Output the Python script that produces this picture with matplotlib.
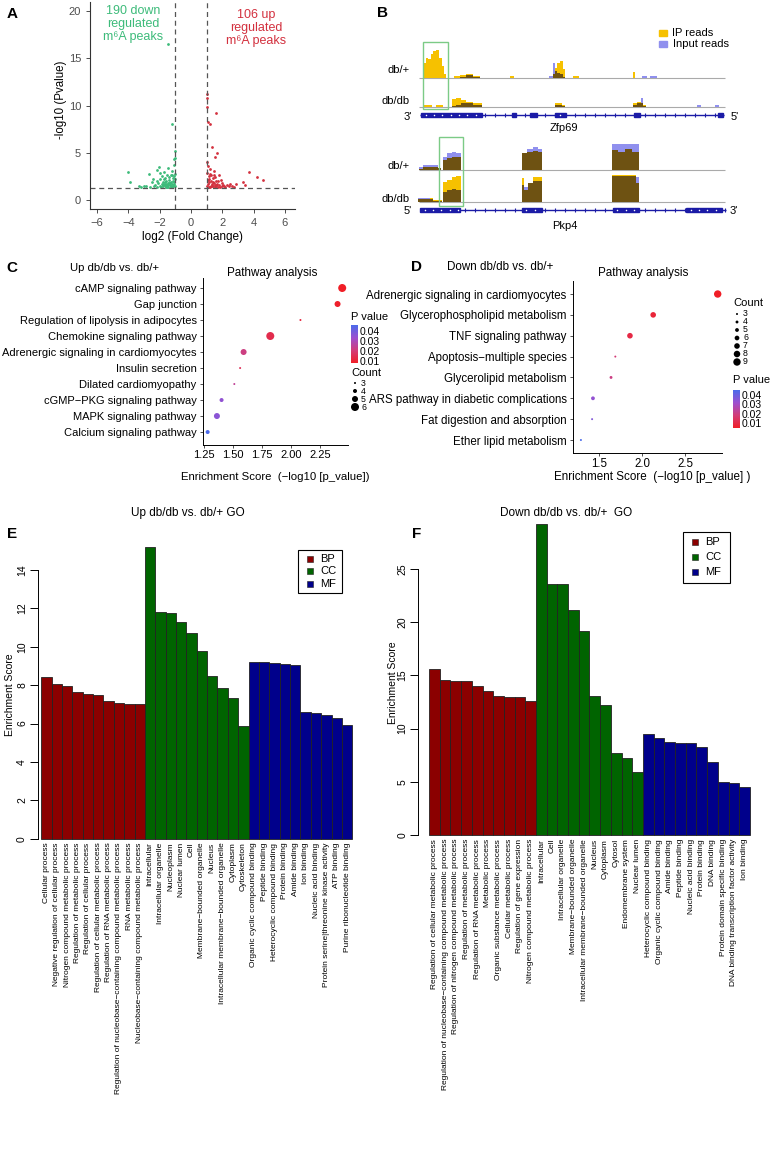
import matplotlib
matplotlib.use('Agg')
import matplotlib.pyplot as plt
import numpy as np
from matplotlib.colors import LinearSegmentedColormap, Normalize
from matplotlib.cm import ScalarMappable
from matplotlib.patches import Rectangle

plt.rcParams['font.family'] = ['Liberation Sans', 'DejaVu Sans']

# ---------------- data ----------------
# A: volcano (log2 FC, -log10 p)
down_x = [-1.5, -1.2, -1.1, -1.05, -4.0, -3.9, -3.3, -3.2, -3.0, -2.7, -2.5, -2.4, -2.3, -2.2, -2.05,
          -1.95, -1.85, -1.8, -1.7, -1.65, -1.6, -1.55, -1.5, -1.45, -1.4, -1.35, -1.3, -1.25, -1.2,
          -1.15, -1.1, -1.05, -1.02, -1.08, -1.12, -1.18, -1.28, -1.38, -1.48, -1.58, -1.68, -1.78,
          -1.88, -1.98, -2.1, -2.15, -2.35, -2.6, -2.9, -1.22, -1.32, -1.42, -1.52, -1.62, -1.72,
          -1.82, -1.92, -1.03, -1.06, -1.09, -1.14, -1.04, -1.2, -1.3, -1.45, -1.55, -1.65, -2.0,
          -2.2, -1.75, -1.6]
down_y = [16.5, 8.0, 4.3, 5.2, 3.0, 1.9, 1.45, 1.4, 1.45, 2.8, 1.9, 2.2, 1.6, 3.2, 3.5,
          2.9, 2.5, 1.9, 3.0, 2.3, 1.5, 2.7, 1.8, 3.4, 2.1, 1.6, 2.6, 1.9, 3.1,
          2.3, 1.7, 2.8, 1.5, 3.7, 2.0, 1.45, 1.4, 2.4, 1.55, 2.05, 1.6, 1.45,
          1.7, 1.5, 1.8, 1.4, 1.5, 1.4, 1.5, 1.65, 1.85, 1.75, 1.6, 1.4, 1.7,
          1.55, 1.4, 2.2, 1.9, 2.5, 1.5, 4.4, 2.7, 1.5, 1.4, 1.35, 1.9, 2.2,
          2.0, 2.2, 1.7]
up_x = [1.0, 1.02, 1.05, 1.1, 1.2, 1.6, 1.35, 1.65, 1.55, 3.7, 4.2, 4.6, 3.3, 3.45, 2.9, 2.5, 2.3,
        2.1, 2.0, 1.9, 1.8, 1.7, 1.6, 1.5, 1.45, 1.4, 1.3, 1.25, 1.2, 1.15, 1.1, 1.05, 1.03, 1.08,
        1.12, 1.18, 1.22, 1.28, 1.32, 1.38, 1.42, 1.48, 1.52, 1.58, 1.62, 1.68, 1.72, 1.78, 1.85,
        1.95, 2.05, 2.2, 2.4, 2.6, 2.75, 1.06, 1.14, 1.24, 1.35, 1.45, 1.04, 1.5]
up_y = [11.2, 10.8, 9.8, 8.3, 8.0, 9.2, 5.6, 5.0, 4.5, 3.0, 2.4, 2.1, 1.95, 1.6, 1.7, 1.7, 1.55,
        1.5, 1.8, 2.1, 2.7, 2.0, 1.6, 2.4, 3.1, 1.9, 2.6, 1.5, 3.3, 2.2, 1.7, 2.9, 1.5, 3.6,
        2.5, 1.9, 1.4, 2.0, 1.7, 2.3, 1.5, 1.8, 1.4, 2.0, 1.45, 1.7, 1.4, 1.55, 1.4,
        1.45, 1.6, 1.4, 1.45, 1.5, 1.4, 2.1, 1.4, 2.8, 1.45, 2.6, 4.0, 1.6]

# B: coverage segments (start, end, IP height, Input height), track units
zfp_dbplus = [(133, 138, 45, 0), (138, 145, 58, 0), (145, 152, 55, 0), (152, 160, 70, 0),
              (160, 168, 80, 0), (168, 178, 82, 0), (178, 185, 60, 0), (185, 192, 35, 0),
              (192, 198, 10, 0), (222, 240, 6, 0), (240, 258, 8, 2), (258, 280, 10, 8),
              (280, 300, 6, 3), (390, 402, 6, 0), (508, 520, 0, 6), (520, 526, 10, 45),
              (526, 532, 30, 20), (532, 540, 45, 15), (540, 548, 50, 10), (548, 556, 25, 3),
              (580, 598, 5, 0), (760, 764, 18, 0), (785, 800, 0, 6), (810, 830, 0, 6)]
zfp_dbdb = [(133, 155, 5, 0), (168, 190, 5, 0), (215, 228, 22, 3), (228, 242, 25, 5),
            (242, 258, 20, 10), (258, 280, 15, 10), (280, 305, 10, 5), (525, 545, 10, 6),
            (545, 556, 6, 3), (760, 772, 10, 6), (772, 782, 15, 12), (782, 790, 12, 25),
            (790, 798, 5, 3), (950, 962, 0, 5), (1005, 1017, 0, 5)]
pkp_dbplus = [(118, 130, 2, 8), (130, 150, 8, 15), (150, 175, 10, 16), (175, 182, 5, 5),
              (190, 200, 30, 40), (200, 215, 35, 50), (215, 228, 40, 55), (228, 242, 38, 52),
              (425, 440, 50, 52), (440, 460, 55, 62), (460, 475, 57, 70), (475, 487, 55, 62),
              (697, 715, 60, 78), (715, 735, 55, 78), (735, 755, 62, 78), (755, 778, 55, 78)]
pkp_dbdb = [(115, 150, 8, 10), (150, 160, 10, 8), (160, 185, 6, 3),
            (190, 200, 60, 30), (200, 215, 65, 35), (215, 228, 75, 38), (228, 242, 78, 35),
            (425, 432, 72, 50), (432, 445, 35, 45), (445, 458, 55, 55), (458, 487, 75, 62),
            (697, 768, 80, 78), (768, 778, 55, 75)]
zfp_exons = [(123, 305), (395, 408), (450, 470), (525, 558), (762, 780), (1015, 1030)]
pkp_exons = [(120, 240), (425, 487), (698, 778), (918, 1025)]

# C: KEGG up
c_terms = ['cAMP signaling pathway', 'Gap junction', 'Regulation of lipolysis in adipocytes',
           'Chemokine signaling pathway', 'Adrenergic signaling in cardiomyocytes', 'Insulin secretion',
           'Dilated cardiomyopathy', 'cGMP\u2212PKG signaling pathway', 'MAPK signaling pathway',
           'Calcium signaling pathway']
c_score = [2.44, 2.40, 2.08, 1.82, 1.59, 1.56, 1.51, 1.40, 1.36, 1.28]
c_count = [6, 5, 3, 6, 5, 3, 3, 4, 5, 4]
c_pval = [0.008, 0.009, 0.012, 0.014, 0.022, 0.016, 0.025, 0.035, 0.036, 0.046]

# D: KEGG down
d_terms = ['Adrenergic signaling in cardiomyocytes', 'Glycerophospholipid metabolism',
           'TNF signaling pathway', 'Apoptosis\u2212multiple species', 'Glycerolipid metabolism',
           'ARS pathway in diabetic complications', 'Fat digestion and absorption',
           'Ether lipid metabolism']
d_score = [2.88, 2.13, 1.86, 1.69, 1.64, 1.43, 1.42, 1.29]
d_count = [9, 7, 7, 3, 4, 5, 3, 3]
d_pval = [0.005, 0.008, 0.010, 0.018, 0.020, 0.033, 0.036, 0.045]

# E: GO up
e_bp = ['Cellular process', 'Negative regulation of cellular process', 'Nitrogen compound metabolic process',
        'Regulation of metabolic process', 'Regulation of cellular process',
        'Regulation of cellular metabolic process', 'Regulation of RNA metabolic process',
        'Regulation of nucleobase\u2212containing compound metabolic process', 'RNA metabolic process',
        'Nucleobase\u2212containing compound metabolic process']
e_bp_val = [8.42, 8.08, 7.95, 7.65, 7.52, 7.47, 7.2, 7.05, 7.02, 7.0]
e_cc = ['Intracellular', 'Intracellular organelle', 'Nucleoplasm', 'Nuclear lumen', 'Cell',
        'Membrane\u2212bounded organelle', 'Nucleus', 'Intracellular membrane\u2212bounded organelle',
        'Cytoplasm', 'Cytoskeleton']
e_cc_val = [15.22, 11.8, 11.78, 11.28, 10.7, 9.8, 8.5, 7.85, 7.33, 5.9]
e_mf = ['Organic cyclic compound binding', 'Peptide binding', 'Heterocyclic compound binding',
        'Protein binding', 'Amide binding', 'Ion binding', 'Nucleic acid binding',
        'Protein serine|threonine kinase activity', 'ATP binding', 'Purine ribonucleotide binding']
e_mf_val = [9.22, 9.2, 9.18, 9.08, 9.07, 6.62, 6.56, 6.47, 6.27, 5.93]

# F: GO down
f_bp = ['Regulation of cellular metabolic process',
        'Regulation of nucleobase\u2212containing compound metabolic process',
        'Regulation of nitrogen compound metabolic process', 'Regulation of metabolic process',
        'Regulation of RNA metabolic process', 'Metabolic process', 'Organic substance metabolic process',
        'Cellular metabolic process', 'Regulation of gene expression', 'Nitrogen compound metabolic process']
f_bp_val = [15.6, 14.55, 14.5, 14.45, 14.0, 13.55, 13.1, 13.0, 12.95, 12.55]
f_cc = ['Intracellular', 'Cell', 'Intracellular organelle', 'Membrane\u2212bounded organelle',
        'Intracellular membrane\u2212bounded organelle', 'Nucleus', 'Cytoplasm', 'Cytosol',
        'Endomembrane system', 'Nuclear lumen']
f_cc_val = [29.2, 23.6, 23.6, 21.1, 19.2, 13.1, 12.2, 7.67, 7.2, 5.9]
f_mf = ['Heterocyclic compound binding', 'Organic cyclic compound binding', 'Amide binding',
        'Peptide binding', 'Nucleic acid binding', 'Protein binding', 'DNA binding',
        'Protein domain specific binding', 'DNA binding transcription factor activity', 'Ion binding']
f_mf_val = [9.48, 9.14, 8.7, 8.67, 8.6, 8.23, 6.83, 4.95, 4.85, 4.53]

# ---------------- figure ----------------
W, H = 770, 1167
fig = plt.figure(figsize=(W / 100, H / 100), dpi=100)


def box(x0, y0, x1, y1, **kw):
    # axes placed by pixel box (top-left origin)
    return fig.add_axes([x0 / W, 1 - y1 / H, (x1 - x0) / W, (y1 - y0) / H], **kw)


ov = box(0, 0, W, H, zorder=20)
ov.set_xlim(0, W)
ov.set_ylim(H, 0)
ov.axis('off')
ov.patch.set_alpha(0)


def t(x, y, s, **kw):
    kw.setdefault('fontsize', 8)
    kw.setdefault('va', 'center')
    ov.text(x, y, s, **kw)


for lab, (x, y) in zip('ABCDEF', [(12, 14), (383, 13), (12, 268), (417, 267), (12, 534), (417, 534)]):
    t(x, y, lab, fontsize=11, fontweight='bold', ha='center')

# ---- A ----
axA = box(90, 2, 295, 209)
axA.scatter(down_x, down_y, s=4, color='#3DBB7A', lw=0)
axA.scatter(up_x, up_y, s=4, color='#D3313F', lw=0)
for v in (-1, 1):
    axA.axvline(v, ls=(0, (4, 3)), color='#555555', lw=0.9)
axA.axhline(-np.log10(0.05), ls=(0, (4, 3)), color='#555555', lw=0.9)
axA.set_xlim(-6.45, 6.64)
axA.set_ylim(-0.95, 20.95)
axA.set_xticks(range(-6, 7, 2))
axA.set_yticks([0, 5, 10, 15, 20])
for s in ('top', 'right'):
    axA.spines[s].set_visible(False)
for s in ('left', 'bottom'):
    axA.spines[s].set_color('#333333')
    axA.spines[s].set_linewidth(0.8)
axA.tick_params(labelsize=8, colors='#4D4D4D', length=3, width=0.7)
t(61, 100, '-log10 (Pvalue)', rotation=90, ha='center', fontsize=8.3)
t(193, 237, 'log2 (Fold Change)', ha='center', fontsize=8.5)
t(133, 24, '190 down\nregulated\nm\u2076A peaks', ha='center', color='#3DBB7A', fontsize=9, linespacing=1.1)
t(256, 28, '106 up\nregulated\nm\u2076A peaks', ha='center', color='#D3313F', fontsize=9, linespacing=1.1)

# ---- B ----
IP_C, IN_C, OV_C, GENE_C = '#F6C100', '#9090EE', '#6E5212', '#1B1BA6'
axB = box(380, 0, 770, 235)
axB.set_xlim(0, 1170)
axB.set_ylim(705, 0)
axB.axis('off')


def track(segs, base):
    axB.hlines(base, 118, 1035, color='#AAAAAA', lw=0.8, zorder=1)
    for x0, x1, ip, inp in segs:
        if ip:
            axB.bar(x0, -ip, width=x1 - x0, bottom=base, align='edge', color=IP_C, lw=0, zorder=2)
        if inp:
            axB.bar(x0, -inp, width=x1 - x0, bottom=base, align='edge', color=IN_C, lw=0, zorder=2)
        m = min(ip, inp)
        if m:
            axB.bar(x0, -m, width=x1 - x0, bottom=base, align='edge', color=OV_C, lw=0, zorder=3)


def gene(exons, y, x0, x1):
    axB.hlines(y, x0, x1, color=GENE_C, lw=1.0, zorder=2)
    marks = np.arange(x0 + 15, x1, 30)
    axB.plot(marks, [y] * len(marks), ls='none', marker='|', ms=2.5, color=GENE_C, mew=0.8, zorder=2)
    for a, b in exons:
        axB.add_patch(Rectangle((a, y - 7), b - a, 14, color=GENE_C, zorder=3))
        if b - a > 25:
            xs = np.arange(a + 14, b - 5, 25)
            axB.scatter(xs, [y] * len(xs), s=1.2, color='white', lw=0, zorder=4)


track(zfp_dbplus, 233)
track(zfp_dbdb, 320)
track(pkp_dbplus, 510)
track(pkp_dbdb, 605)
gene(zfp_exons, 345, 120, 1032)
gene(pkp_exons, 630, 120, 1038)
axB.add_patch(Rectangle((130, 125), 73, 203, fill=False, ec='#7CCB86', lw=1.0, zorder=5))
axB.add_patch(Rectangle((176, 412), 72, 205, fill=False, ec='#7CCB86', lw=1.0, zorder=5))
for y, s in [(210, 'db/+'), (303, 'db/db'), (497, 'db/+'), (597, 'db/db')]:
    axB.text(90, y, s, ha='right', va='center', fontsize=8)
axB.text(95, 350, "3'", ha='right', va='center', fontsize=8)
axB.text(1052, 350, "5'", ha='left', va='center', fontsize=8)
axB.text(95, 633, "5'", ha='right', va='center', fontsize=8)
axB.text(1048, 633, "3'", ha='left', va='center', fontsize=8)
axB.text(553, 385, 'Zfp69', ha='center', va='center', fontsize=8)
axB.text(553, 678, 'Pkp4', ha='center', va='center', fontsize=8)
axB.add_patch(Rectangle((838, 90), 22, 17, color=IP_C))
axB.add_patch(Rectangle((838, 124), 22, 17, color=IN_C))
axB.text(875, 99, 'IP reads', va='center', fontsize=8)
axB.text(878, 133, 'Input reads', va='center', fontsize=8)

# ---- C & D ----
pcmap = LinearSegmentedColormap.from_list('pv', ['#F01E26', '#D23C78', '#9C4FCF', '#4A6AEA'])


def dot_px(count, k):
    return ((2 + (count - 3) * k) * 0.72) ** 2


def bubble(ax_box, xlim, ylim, terms, score, count, pval, k, xticks, xtl, lfs):
    ax = box(*ax_box)
    n = len(terms)
    ypos = np.arange(n, 0, -1)
    norm = Normalize(min(pval), max(pval))
    ax.scatter(score, ypos, s=[dot_px(c, k) for c in count], c=pval, cmap=pcmap, norm=norm, lw=0)
    ax.set_xlim(*xlim)
    ax.set_ylim(*ylim)
    ax.set_yticks(ypos, terms, fontsize=lfs)
    ax.set_xticks(xticks, xtl, fontsize=lfs)
    for s in ('top', 'right'):
        ax.spines[s].set_visible(False)
    for s in ('left', 'bottom'):
        ax.spines[s].set_linewidth(0.7)
    ax.tick_params(length=2.5, width=0.6, color='#333333', pad=2)
    ax.tick_params(axis='x', pad=1)
    ax.patch.set_alpha(0)
    return norm


normC = bubble((203, 278.4, 348, 445), (1.24, 2.49), (0.19, 10.6), c_terms, c_score, c_count, c_pval,
               2.0, [1.25, 1.5, 1.75, 2.0, 2.25], ['1.25', '1.50', '1.75', '2.00', '2.25'], 8)
normD = bubble((573, 281.5, 722, 453), (1.198, 2.93), (0.377, 8.6), d_terms, d_score, d_count, d_pval,
               0.9, [1.5, 2.0, 2.5], ['1.5', '2.0', '2.5'], 8.3)

t(115, 268, 'Up db/db vs. db/+', ha='center', fontsize=8.2)
t(272, 273, 'Pathway analysis', ha='center', fontsize=8.4)
t(275, 477, 'Enrichment Score  (\u2212log10 [p_value])', ha='center', fontsize=8.2)
t(500, 267, 'Down db/db vs. db/+', ha='center', fontsize=8.4)
t(643, 273, 'Pathway analysis', ha='center', fontsize=8.4)
t(652, 477, 'Enrichment Score  (\u2212log10 [p_value] )', ha='center', fontsize=8.4)


def pleg(x, ytitle, cb_box, norm):
    t(x, ytitle, 'P value', fontsize=8)
    cax = box(*cb_box, zorder=21)
    cb = fig.colorbar(ScalarMappable(norm=norm, cmap=pcmap), cax=cax)
    cb.outline.set_visible(False)
    cb.set_ticks([0.01, 0.02, 0.03, 0.04])
    cax.tick_params(labelsize=7.5, length=0, pad=1)


def cleg(x, ytitle, ys, counts, k, fs):
    t(x, ytitle, 'Count', fontsize=8)
    ov.scatter([x + 4] * len(counts), ys, s=[dot_px(c, k) for c in counts], color='black', lw=0)
    for y, c in zip(ys, counts):
        t(x + 10, y, str(c), fontsize=fs)


pleg(351, 317, (351, 325, 358, 363), normC)
cleg(351, 373, [383, 391, 399, 407], [3, 4, 5, 6], 2.0, 6.3)
cleg(733, 303, [314, 322, 330, 338, 346, 354, 362], [3, 4, 5, 6, 7, 8, 9], 0.9, 6.3)
pleg(733, 380, (733, 390, 740, 428), normD)

# ---- E & F ----
CAT_C = {'BP': '#8B0000', 'CC': '#006400', 'MF': '#00008B'}


def go(ax_box, xlim, ylim, groups, yticks, title_xy, title, leg_box):
    ax = box(*ax_box)
    labels, vals, cols = [], [], []
    for cat, lab, val in groups:
        labels += lab
        vals += val
        cols += [CAT_C[cat]] * len(val)
    xs = np.arange(len(vals)) + 0.5
    ax.bar(xs, vals, width=1.0, color=cols, edgecolor='#222222', linewidth=0.6)
    ax.set_xlim(*xlim)
    ax.set_ylim(*ylim)
    ax.set_xticks(xs, labels, rotation=90, fontsize=6.0)
    ax.tick_params(axis='x', length=0, pad=2)
    ax.set_yticks(yticks, [str(v) for v in yticks])
    ax.tick_params(axis='y', labelrotation=90, labelsize=7.5, length=5.5, width=0.7, pad=2)
    for lbl in ax.get_yticklabels():
        lbl.set_va('center')
    for s in ('top', 'right', 'bottom'):
        ax.spines[s].set_visible(False)
    ax.spines['left'].set_bounds(yticks[0], yticks[-1])
    ax.spines['left'].set_linewidth(0.7)
    ax.patch.set_alpha(0)
    t(*title_xy, title, ha='center', fontsize=8.5)
    x0, y0, x1, y1 = leg_box
    ov.add_patch(Rectangle((x0, y0), x1 - x0, y1 - y0, fill=False, ec='black', lw=0.8))
    for i, cat in enumerate(['BP', 'CC', 'MF']):
        yy = y0 + (y1 - y0) * (0.2 + 0.29 * i)
        ov.add_patch(Rectangle((x0 + 9, yy - 3), 6, 6, fc=CAT_C[cat], ec='#222222', lw=0.4))
        t(x0 + 22, yy, cat, fontsize=8)


go((37.5, 540, 356, 839.8), (-0.35, 30.35), (-0.052, 15.56),
   [('BP', e_bp, e_bp_val), ('CC', e_cc, e_cc_val), ('MF', e_mf, e_mf_val)],
   [0, 2, 4, 6, 8, 10, 12, 14], (188, 513), 'Up db/db vs. db/+ GO', (298, 550, 342, 593))
t(10, 695, 'Enrichment Score', rotation=90, ha='center', fontsize=7.5)

go((418, 518, 752, 836), (-1.03, 30.19), (-0.094, 29.77),
   [('BP', f_bp, f_bp_val), ('CC', f_cc, f_cc_val), ('MF', f_mf, f_mf_val)],
   [0, 5, 10, 15, 20, 25], (566, 513), 'Down db/db vs. db/+  GO', (683, 532, 730, 583))
t(393, 683, 'Enrichment Score', rotation=90, ha='center', fontsize=7.5)

fig.savefig('out.png', dpi=100)
